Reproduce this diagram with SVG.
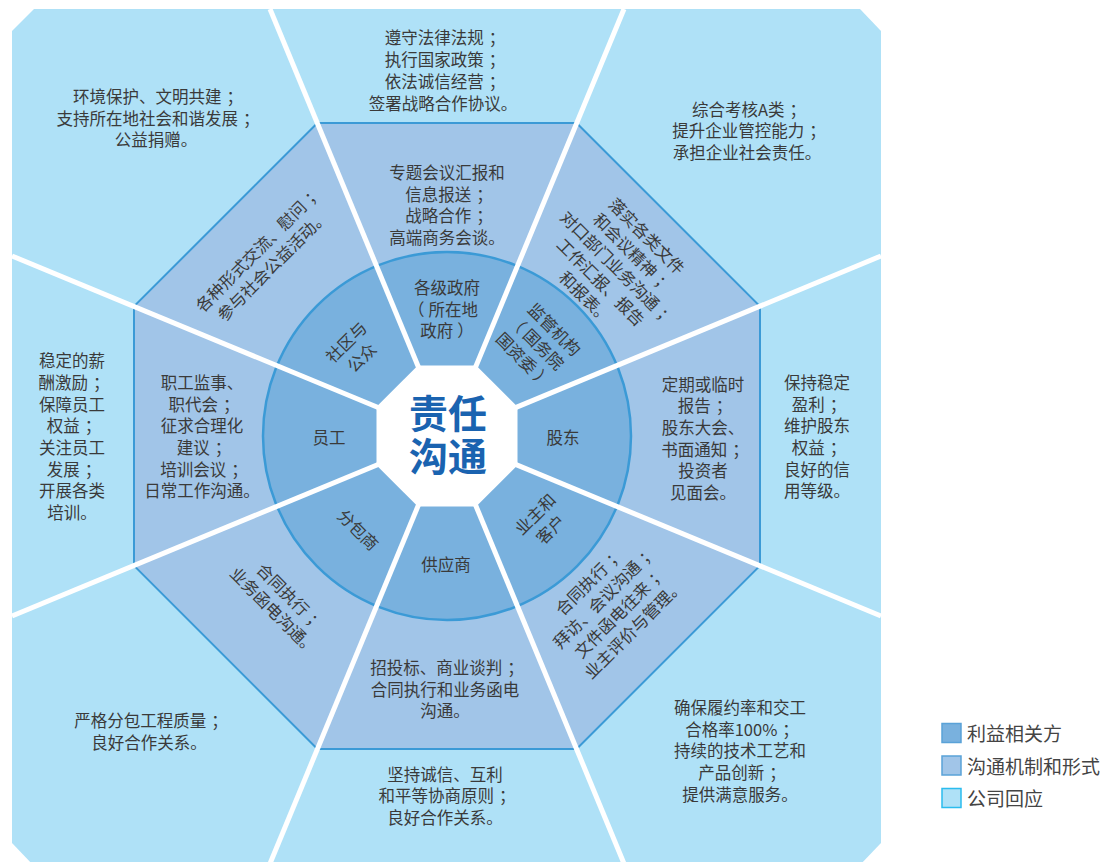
<svg xmlns="http://www.w3.org/2000/svg" width="1117" height="862" viewBox="0 0 1117 862">
<style>
  text { font-family: "Noto Sans CJK SC", "Noto Sans", sans-serif; fill: #3a3a3a; font-size: 16.5px; text-anchor: middle; }
  .outer { fill: #afe1f7; }
  .mid { fill: #a1c5e8; stroke: #3b9ad6; stroke-width: 2; }
  .ring { fill: #79b1de; stroke: #3b9ad6; stroke-width: 2.5; }
  .ray { stroke: #ffffff; stroke-width: 5; fill: none; }
  .core { fill: #ffffff; }
  .title { font-size: 39px; font-weight: bold; fill: #1a63b0; }
  .leg { font-size: 19px; text-anchor: start; fill: #444444; }
</style>
<rect width="1117" height="862" fill="#ffffff"/>
<g id="background">
  <polygon class="outer" points="34,9 860,9 881,31 881,843 859,866 34,866 12,843 12,31"/>
  <polygon class="mid" points="317.4,123 576.6,123 760,306.4 760,565.6 576.6,749 317.4,749 134,565.6 134,306.4"/>
  <circle class="ring" cx="447" cy="436" r="184"/>
</g>
<g id="dividers">
  <line class="ray" x1="447" y1="436" x2="270" y2="9"/>
  <line class="ray" x1="447" y1="436" x2="624" y2="9"/>
  <line class="ray" x1="447" y1="436" x2="881" y2="256"/>
  <line class="ray" x1="447" y1="436" x2="881" y2="616"/>
  <line class="ray" x1="447" y1="436" x2="625" y2="866"/>
  <line class="ray" x1="447" y1="436" x2="269" y2="866"/>
  <line class="ray" x1="447" y1="436" x2="12" y2="616"/>
  <line class="ray" x1="447" y1="436" x2="12" y2="256"/>
</g>
<g id="center">
  <polygon class="core" points="417.8,365.5 476.2,365.5 517.5,406.8 517.5,465.2 476.2,506.5 417.8,506.5 376.5,465.2 376.5,406.8"/>
  <text class="title" x="448" y="428">责任</text>
  <text class="title" x="448" y="471">沟通</text>
</g>

<!-- Inner ring: stakeholders -->
<g id="s-gov">
  <text x="447" y="293.5">各级政府</text>
  <text x="447" y="315.5"><tspan dx="-4">（</tspan><tspan dx="4">所在地</tspan></text>
  <text x="447" y="336.5">政府<tspan dx="4">）</tspan></text>
</g>
<g id="s-regulator" transform="translate(539,345) rotate(45)">
  <text x="0" y="-15.7">监管机构</text>
  <text x="0" y="6"><tspan dx="-4">（</tspan><tspan dx="4">国务院</tspan></text>
  <text x="0" y="27.7">国资委<tspan dx="4">）</tspan></text>
</g>
<g id="s-shareholder"><text x="563" y="443.5">股东</text></g>
<g id="s-client" transform="translate(543,522) rotate(-45)">
  <text x="0" y="-4.8">业主和</text>
  <text x="0" y="16.9">客户</text>
</g>
<g id="s-supplier"><text x="446" y="570.5">供应商</text></g>
<g id="s-subcontractor" transform="translate(358,530) rotate(45)">
  <text x="0" y="6">分包商</text>
</g>
<g id="s-staff"><text x="329" y="443.5">员工</text></g>
<g id="s-community" transform="translate(354,350) rotate(-45)">
  <text x="0" y="-4.8">社区与</text>
  <text x="0" y="16.9">公众</text>
</g>

<!-- Middle: communication mechanisms -->
<g id="m-gov">
  <text x="447" y="178.5">专题会议汇报和</text>
  <text x="449" y="200.5">信息报送<tspan dx="5">；</tspan></text>
  <text x="449" y="221.5">战略合作<tspan dx="5">；</tspan></text>
  <text x="447" y="243.5">高端商务会谈。</text>
</g>
<g id="m-regulator" transform="translate(616,267) rotate(45)">
  <text x="0" y="-37.4">落实各类文件</text>
  <text x="2" y="-15.7">和会议精神<tspan dx="5">；</tspan></text>
  <text x="2" y="6">对口部门业务沟通<tspan dx="5">；</tspan></text>
  <text x="0" y="27.7">工作汇报、报告</text>
  <text x="0" y="49.4">和报表。</text>
</g>
<g id="m-shareholder">
  <text x="703" y="390.5">定期或临时</text>
  <text x="705" y="411.5">报告<tspan dx="5">；</tspan></text>
  <text x="703" y="433.5">股东大会、</text>
  <text x="705" y="455.5">书面通知<tspan dx="5">；</tspan></text>
  <text x="703" y="476.5">投资者</text>
  <text x="703" y="498.5">见面会。</text>
</g>
<g id="m-client" transform="translate(611,606) rotate(-45)">
  <text x="2" y="-26.5">合同执行<tspan dx="5">；</tspan></text>
  <text x="2" y="-4.8">拜访、会议沟通<tspan dx="5">；</tspan></text>
  <text x="2" y="16.9">文件函电往来<tspan dx="5">；</tspan></text>
  <text x="0" y="38.6">业主评价与管理。</text>
</g>
<g id="m-supplier">
  <text x="447" y="673.5">招投标、商业谈判<tspan dx="5">；</tspan></text>
  <text x="445" y="695.5">合同执行和业务函电</text>
  <text x="445" y="716.5">沟通。</text>
</g>
<g id="m-subcontractor" transform="translate(281.5,603.5) rotate(45)">
  <text x="2" y="-4.8">合同执行<tspan dx="5">；</tspan></text>
  <text x="0" y="16.9">业务函电沟通。</text>
</g>
<g id="m-staff">
  <text x="202" y="388.5">职工监事、</text>
  <text x="204" y="410.5">职代会<tspan dx="5">；</tspan></text>
  <text x="202" y="431.5">征求合理化</text>
  <text x="204" y="453.5">建议<tspan dx="5">；</tspan></text>
  <text x="204" y="475.5">培训会议<tspan dx="5">；</tspan></text>
  <text x="202" y="496.5">日常工作沟通。</text>
</g>
<g id="m-community" transform="translate(265,258) rotate(-45)">
  <text x="2" y="-4.8">各种形式交流、慰问<tspan dx="5">；</tspan></text>
  <text x="0" y="16.9">参与社会公益活动。</text>
</g>

<!-- Outer: company responses -->
<g id="r-gov">
  <text x="445" y="43.5">遵守法律法规<tspan dx="5">；</tspan></text>
  <text x="445" y="65.7">执行国家政策<tspan dx="5">；</tspan></text>
  <text x="445" y="88">依法诚信经营<tspan dx="5">；</tspan></text>
  <text x="443" y="110.3">签署战略合作协议。</text>
</g>
<g id="r-regulator">
  <text x="749" y="115.5">综合考核A类<tspan dx="5">；</tspan></text>
  <text x="749" y="137">提升企业管控能力<tspan dx="5">；</tspan></text>
  <text x="747" y="158.5">承担企业社会责任。</text>
</g>
<g id="r-shareholder">
  <text x="817" y="388.5">保持稳定</text>
  <text x="819" y="410.5">盈利<tspan dx="5">；</tspan></text>
  <text x="817" y="431.5">维护股东</text>
  <text x="819" y="453.5">权益<tspan dx="5">；</tspan></text>
  <text x="817" y="475.5">良好的信</text>
  <text x="817" y="496.5">用等级。</text>
</g>
<g id="r-client">
  <text x="740" y="713.5">确保履约率和交工</text>
  <text x="742" y="735.5">合格率100%<tspan dx="5">；</tspan></text>
  <text x="740" y="756.5">持续的技术工艺和</text>
  <text x="742" y="778.5">产品创新<tspan dx="5">；</tspan></text>
  <text x="740" y="800.5">提供满意服务。</text>
</g>
<g id="r-supplier">
  <text x="445" y="780.5">坚持诚信、互利</text>
  <text x="447" y="801.5">和平等协商原则<tspan dx="5">；</tspan></text>
  <text x="445" y="823.5">良好合作关系。</text>
</g>
<g id="r-subcontractor">
  <text x="151" y="726.5">严格分包工程质量<tspan dx="5">；</tspan></text>
  <text x="149" y="748.5">良好合作关系。</text>
</g>
<g id="r-staff">
  <text x="72" y="366.5">稳定的薪</text>
  <text x="74" y="388.5">酬激励<tspan dx="5">；</tspan></text>
  <text x="72" y="410.5">保障员工</text>
  <text x="74" y="431.5">权益<tspan dx="5">；</tspan></text>
  <text x="72" y="453.5">关注员工</text>
  <text x="74" y="475.5">发展<tspan dx="5">；</tspan></text>
  <text x="72" y="496.5">开展各类</text>
  <text x="72" y="518.5">培训。</text>
</g>
<g id="r-community">
  <text x="158" y="103">环境保护、文明共建<tspan dx="5">；</tspan></text>
  <text x="158" y="125">支持所在地社会和谐发展<tspan dx="5">；</tspan></text>
  <text x="156" y="146">公益捐赠。</text>
</g>

<g id="legend">
  <rect x="942" y="723.5" width="19" height="19" fill="#79b1de" stroke="#5aa2d8" stroke-width="1.5"/>
  <text class="leg" x="967" y="741">利益相关方</text>
  <rect x="942" y="756" width="19" height="19" fill="#a1c5e8" stroke="#5aa2d8" stroke-width="1.5"/>
  <text class="leg" x="967" y="774">沟通机制和形式</text>
  <rect x="942" y="788.5" width="19" height="19" fill="#afe1f7" stroke="#2bbcee" stroke-width="1.5"/>
  <text class="leg" x="967" y="806">公司回应</text>
</g>
</svg>
